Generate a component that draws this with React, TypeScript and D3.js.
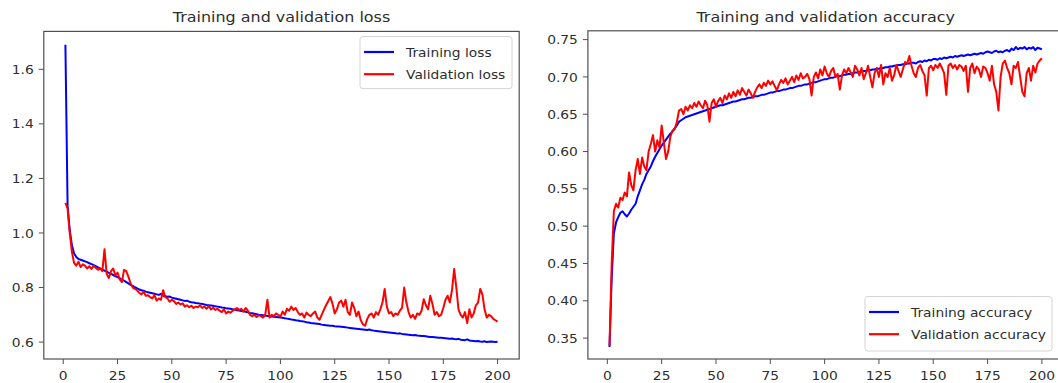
import React from "react";
import * as d3 from "d3";

// ---------- data ----------
const trainLoss = [
  1.69, 1.10, 1.01, 0.955, 0.925, 0.912, 0.905, 0.902, 0.899, 0.896,
  0.893, 0.889, 0.886, 0.882, 0.878, 0.874, 0.870, 0.866, 0.862, 0.858,
  0.854, 0.850, 0.846, 0.842, 0.838, 0.834, 0.829, 0.825, 0.820, 0.815,
  0.810, 0.806, 0.801, 0.797, 0.793, 0.790, 0.788, 0.785, 0.783, 0.781,
  0.779, 0.777, 0.775, 0.773, 0.777, 0.770, 0.768, 0.766, 0.767, 0.763,
  0.761, 0.759, 0.757, 0.755, 0.753, 0.751, 0.752, 0.748, 0.746, 0.745,
  0.743, 0.742, 0.741, 0.740, 0.738, 0.736, 0.735, 0.734, 0.733, 0.731,
  0.730, 0.729, 0.727, 0.726, 0.724, 0.723, 0.722, 0.720, 0.719, 0.717,
  0.716, 0.714, 0.713, 0.711, 0.709, 0.707, 0.706, 0.704, 0.702, 0.700,
  0.699, 0.698, 0.697, 0.696, 0.695, 0.694, 0.693, 0.692, 0.691, 0.690,
  0.689, 0.687, 0.686, 0.685, 0.683, 0.682, 0.680, 0.679, 0.677, 0.676,
  0.675, 0.673, 0.672, 0.670, 0.669, 0.668, 0.667, 0.666, 0.664, 0.663,
  0.662, 0.661, 0.660, 0.660, 0.658, 0.657, 0.657, 0.656, 0.655, 0.654,
  0.653, 0.652, 0.651, 0.650, 0.649, 0.648, 0.647, 0.646, 0.645, 0.644,
  0.646, 0.643, 0.642, 0.641, 0.640, 0.639, 0.638, 0.637, 0.636, 0.635,
  0.634, 0.633, 0.632, 0.631, 0.632, 0.630, 0.629, 0.628, 0.627, 0.626,
  0.625, 0.626, 0.624, 0.623, 0.622, 0.622, 0.621, 0.620, 0.619, 0.619,
  0.618, 0.617, 0.616, 0.616, 0.615, 0.614, 0.613, 0.612, 0.613, 0.611,
  0.610, 0.612, 0.609, 0.608, 0.607, 0.610, 0.606, 0.605, 0.604, 0.603,
  0.604, 0.602, 0.601, 0.603, 0.600, 0.601, 0.602, 0.601, 0.600, 0.601,
];

const valLoss = [
  1.11, 1.09, 1.00, 0.93, 0.89, 0.88, 0.895, 0.875, 0.885, 0.880,
  0.870, 0.878, 0.868, 0.880, 0.872, 0.865, 0.870, 0.860, 0.940, 0.850,
  0.835, 0.860, 0.870, 0.845, 0.855, 0.830, 0.820, 0.865, 0.860, 0.840,
  0.815, 0.800, 0.795, 0.790, 0.780, 0.775, 0.785, 0.770, 0.772, 0.765,
  0.760, 0.772, 0.752, 0.760, 0.755, 0.790, 0.765, 0.760, 0.748, 0.755,
  0.750, 0.740, 0.745, 0.738, 0.742, 0.730, 0.735, 0.728, 0.733, 0.725,
  0.730, 0.728, 0.735, 0.725, 0.730, 0.722, 0.732, 0.720, 0.726, 0.718,
  0.722, 0.715, 0.710, 0.720, 0.705, 0.712, 0.708, 0.715, 0.720, 0.725,
  0.718, 0.722, 0.712, 0.725, 0.715, 0.700, 0.695, 0.700, 0.692, 0.698,
  0.695, 0.690, 0.700, 0.755, 0.690, 0.700, 0.695, 0.705, 0.700, 0.693,
  0.712, 0.700, 0.722, 0.715, 0.730, 0.718, 0.725, 0.710, 0.700, 0.705,
  0.690, 0.708, 0.700, 0.695, 0.705, 0.712, 0.690, 0.682, 0.700, 0.718,
  0.735, 0.750, 0.765, 0.740, 0.705, 0.720, 0.745, 0.752, 0.730, 0.755,
  0.710, 0.700, 0.745, 0.725, 0.695, 0.712, 0.680, 0.665, 0.660, 0.685,
  0.700, 0.705, 0.690, 0.710, 0.700, 0.720, 0.745, 0.795, 0.730, 0.705,
  0.710, 0.695, 0.705, 0.700, 0.715, 0.725, 0.800, 0.745, 0.710, 0.690,
  0.700, 0.685, 0.705, 0.700, 0.715, 0.757, 0.735, 0.720, 0.770, 0.740,
  0.700, 0.710, 0.695, 0.700, 0.725, 0.755, 0.770, 0.745, 0.790, 0.868,
  0.800, 0.720, 0.700, 0.690, 0.710, 0.670, 0.720, 0.690, 0.705, 0.735,
  0.745, 0.795, 0.775, 0.720, 0.690, 0.700, 0.695, 0.685, 0.680, 0.675,
];

const trainAcc = [
  0.338, 0.430, 0.490, 0.505, 0.512, 0.518, 0.520, 0.516, 0.513, 0.517,
  0.522, 0.526, 0.530, 0.540, 0.548, 0.556, 0.562, 0.570, 0.575, 0.580,
  0.587, 0.593, 0.598, 0.603, 0.608, 0.612, 0.616, 0.620, 0.624, 0.627,
  0.631, 0.635, 0.640, 0.642, 0.644, 0.646, 0.647, 0.648, 0.649, 0.650,
  0.651, 0.652, 0.653, 0.654, 0.655, 0.656, 0.657, 0.658, 0.659, 0.660,
  0.661, 0.662, 0.662, 0.663, 0.664, 0.665, 0.666, 0.667, 0.667, 0.668,
  0.669, 0.670, 0.670, 0.671, 0.672, 0.672, 0.673, 0.674, 0.674, 0.675,
  0.676, 0.676, 0.677, 0.678, 0.679, 0.679, 0.680, 0.681, 0.681, 0.682,
  0.683, 0.683, 0.684, 0.685, 0.685, 0.686, 0.687, 0.688, 0.688, 0.689,
  0.690, 0.690, 0.691, 0.692, 0.693, 0.693, 0.694, 0.695, 0.696, 0.697,
  0.697, 0.698, 0.699, 0.699, 0.700, 0.701, 0.701, 0.702, 0.703, 0.703,
  0.704, 0.704, 0.705, 0.706, 0.706, 0.707, 0.707, 0.708, 0.708, 0.709,
  0.709, 0.710, 0.710, 0.711, 0.711, 0.712, 0.712, 0.713, 0.713, 0.714,
  0.714, 0.715, 0.715, 0.716, 0.716, 0.717, 0.717, 0.718, 0.718, 0.719,
  0.719, 0.718, 0.720, 0.721, 0.720, 0.722, 0.721, 0.723, 0.722, 0.724,
  0.724, 0.723, 0.725, 0.724, 0.726, 0.725, 0.726, 0.727, 0.726, 0.728,
  0.727, 0.728, 0.729, 0.728, 0.729, 0.730, 0.729, 0.730, 0.731, 0.730,
  0.731, 0.732, 0.731, 0.733, 0.734, 0.733, 0.732, 0.734, 0.735, 0.733,
  0.734, 0.733, 0.735, 0.736, 0.734, 0.738, 0.736, 0.740, 0.737, 0.739,
  0.738, 0.740, 0.737, 0.739, 0.738, 0.740, 0.736, 0.739, 0.738, 0.737,
];

const valAcc = [
  0.340, 0.450, 0.520, 0.530, 0.525, 0.538, 0.535, 0.545, 0.540, 0.572,
  0.555, 0.548, 0.575, 0.590, 0.570, 0.592, 0.580, 0.575, 0.600, 0.610,
  0.622, 0.600, 0.615, 0.605, 0.635, 0.612, 0.590, 0.600, 0.620, 0.628,
  0.630, 0.640, 0.655, 0.657, 0.650, 0.660, 0.655, 0.662, 0.658, 0.665,
  0.660, 0.667, 0.662, 0.658, 0.668, 0.662, 0.640, 0.665, 0.670, 0.660,
  0.668, 0.672, 0.665, 0.675, 0.670, 0.678, 0.672, 0.680, 0.674, 0.682,
  0.676, 0.685, 0.680, 0.675, 0.683, 0.678, 0.672, 0.680, 0.686, 0.690,
  0.685, 0.692, 0.688, 0.695, 0.690, 0.694, 0.688, 0.682, 0.690, 0.696,
  0.692, 0.698, 0.690, 0.695, 0.700, 0.693, 0.702, 0.696, 0.705, 0.698,
  0.700, 0.704, 0.697, 0.675, 0.700, 0.706, 0.698, 0.710, 0.702, 0.714,
  0.705, 0.700, 0.708, 0.712, 0.700, 0.704, 0.683, 0.702, 0.710, 0.705,
  0.712, 0.706, 0.700, 0.715, 0.710, 0.702, 0.712, 0.697, 0.705, 0.715,
  0.700, 0.686, 0.705, 0.712, 0.700, 0.716, 0.690, 0.705, 0.700, 0.712,
  0.695, 0.702, 0.716, 0.708, 0.700, 0.710, 0.720, 0.718, 0.728, 0.715,
  0.705, 0.700, 0.712, 0.716, 0.708, 0.702, 0.675, 0.712, 0.715, 0.709,
  0.716, 0.712, 0.718, 0.712, 0.705, 0.676, 0.715, 0.718, 0.712, 0.716,
  0.710, 0.716, 0.714, 0.708, 0.715, 0.680, 0.712, 0.718, 0.705, 0.714,
  0.710, 0.700, 0.714, 0.712, 0.705, 0.695, 0.715, 0.690, 0.680, 0.655,
  0.700, 0.718, 0.722, 0.712, 0.705, 0.690, 0.715, 0.712, 0.720, 0.700,
  0.680, 0.674, 0.705, 0.712, 0.695, 0.715, 0.706, 0.718, 0.722, 0.725,
];

const epochs = d3.range(1, trainLoss.length + 1);
const xTicks = [0, 25, 50, 75, 100, 125, 150, 175, 200];
const lossTicks = [0.6, 0.8, 1.0, 1.2, 1.4, 1.6];
const accTicks = [0.35, 0.4, 0.45, 0.5, 0.55, 0.6, 0.65, 0.7, 0.75];

const FONT = "'DejaVu Sans', sans-serif";
const TXT = "#2e2e2e";
const SX = 1.08; // horizontal stretch of the source image

function Txt({ x, y, size, anchor = "start", children, sx = SX }: any) {
  return (
    <text
      transform={`translate(${x},${y}) scale(${sx},1)`}
      fontSize={size}
      textAnchor={anchor}
      fill={TXT}
      fontFamily={FONT}
    >
      {children}
    </text>
  );
}

function Panel({ box, yDomain, yTicks, yFmt, title, series, legend }: any) {
  const x = d3.scaleLinear().domain([-8.95, 209.95]).range([box.x0, box.x1]);
  const y = d3.scaleLinear().domain(yDomain).range([box.y1, box.y0]);
  const line = d3
    .line<number>()
    .x((_, i) => x(epochs[i]))
    .y((d) => y(d));
  const fmt = d3.format(yFmt);
  return (
    <g>
      <Txt x={(box.x0 + box.x1) / 2} y={21.5} size={14.5} anchor="middle" sx={1.1}>
        {title}
      </Txt>
      {series.map((s: any) => (
        <path key={s.name} d={line(s.values) || ""} fill="none" stroke={s.color} strokeWidth={2} strokeLinejoin="round" />
      ))}
      <rect x={box.x0} y={box.y0} width={box.x1 - box.x0} height={box.y1 - box.y0} fill="none" stroke="#505050" strokeWidth={1.2} />
      {xTicks.map((t) => (
        <g key={"x" + t}>
          <line x1={x(t)} x2={x(t)} y1={box.y1} y2={box.y1 + 5} stroke="#505050" strokeWidth={1} />
          <Txt x={x(t)} y={380} size={12.8} anchor="middle">{t}</Txt>
        </g>
      ))}
      {yTicks.map((t: number) => (
        <g key={"y" + t}>
          <line x1={box.x0 - 5} x2={box.x0} y1={y(t)} y2={y(t)} stroke="#505050" strokeWidth={1} />
          <Txt x={box.x0 - 10} y={y(t) + 4.6} size={12.8} anchor="end">{fmt(t)}</Txt>
        </g>
      ))}
      <g>
        <rect x={legend.x0} y={legend.y0} width={legend.x1 - legend.x0} height={legend.y1 - legend.y0} rx={3} fill="#fff" fillOpacity={0.85} stroke="#d4d4d4" strokeWidth={1} />
        {series.map((s: any, i: number) => {
          const cy = legend.y0 + 15.5 + i * 22.2;
          return (
            <g key={"l" + s.name}>
              <line x1={legend.x0 + 4} x2={legend.x0 + 34} y1={cy} y2={cy} stroke={s.color} strokeWidth={2.2} />
              <Txt x={legend.x0 + 46} y={cy + 4.6} size={12.8}>{s.name}</Txt>
            </g>
          );
        })}
      </g>
    </g>
  );
}

export default function App() {
  return (
    <svg width={1058} height={383} style={{ position: "absolute", left: 0, top: 0, background: "#fff" }}>
      <rect x={0} y={0} width={1058} height={383} fill="#fff" />
      <Panel
        box={{ x0: 43.8, x1: 519.2, y0: 31.4, y1: 359 }}
        yDomain={[0.538, 1.739]}
        yTicks={lossTicks}
        yFmt=".1f"
        title="Training and validation loss"
        series={[
          { name: "Training loss", values: trainLoss, color: "#0000ff" },
          { name: "Validation loss", values: valLoss, color: "#ff0000" },
        ]}
        legend={{ x0: 360, x1: 512, y0: 36.5, y1: 88.6 }}
      />
      <Panel
        box={{ x0: 587.9, x1: 1063.5, y0: 30.8, y1: 359 }}
        yDomain={[0.322, 0.7618]}
        yTicks={accTicks}
        yFmt=".2f"
        title="Training and validation accuracy"
        series={[
          { name: "Training accuracy", values: trainAcc, color: "#0000ff" },
          { name: "Validation accuracy", values: valAcc, color: "#ff0000" },
        ]}
        legend={{ x0: 865, x1: 1052, y0: 296.5, y1: 351 }}
      />
    </svg>
  );
}
